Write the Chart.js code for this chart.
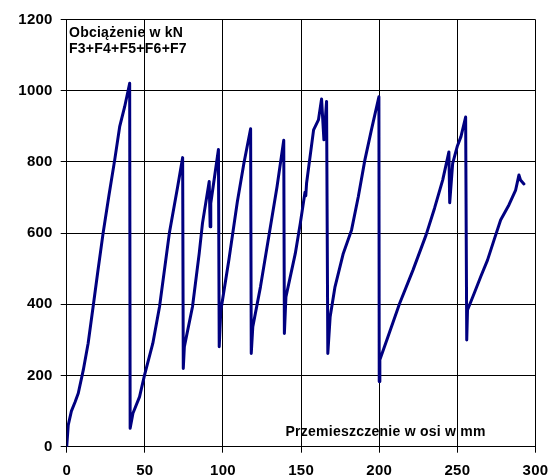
<!DOCTYPE html>
<html>
<head>
<meta charset="utf-8">
<script src="https://cdn.jsdelivr.net/npm/chart.js@4/dist/chart.umd.min.js"></script>
<style>
  html, body { margin: 0; padding: 0; background: #fff; overflow: hidden; }
  #wrap { position: relative; width: 557px; height: 475px; overflow: hidden; background: #fff; }
  canvas { position: absolute; left: 0; top: 0; }
  .note { position: absolute; font: bold 14px "Liberation Sans", Arial, sans-serif; line-height: 16.7px; color: #000; white-space: nowrap; letter-spacing: 0.25px; }
</style>
</head>
<body>
<div id="wrap">
  <canvas id="c" width="557" height="475"></canvas>
  <div class="note" style="left:69px; top:23.5px;">Obciążenie w kN<br>F3+F4+F5+F6+F7</div>
  <div class="note" style="left:285.5px; top:422.8px;">Przemieszczenie w osi w mm</div>
</div>
<script>
// Displacement along axis (mm)
const displacement = [
  0, 1.0, 3.0, 5.3, 7.4, 10.6, 13.7, 16.9, 20.0, 23.3, 27.0, 30.7, 33.9, 37.1, 40.3,
  40.6, 42.4, 46.6, 49.8, 55.1, 59.4, 65.7, 71.0, 74.2,
  74.6, 75.3, 80.5, 84.8, 86.9, 91.2, 91.8, 92.2, 97.1,
  97.6, 98.6, 103.9, 109.2, 113.4, 117.7,
  118.1, 119.1, 124.0, 129.3, 134.6, 138.9,
  139.3, 140.3, 146.3, 149.5, 152.5, 153.0, 153.5, 158.0, 161.1, 163.1, 164.6, 166.3,
  167.1, 168.6, 171.7, 177.0, 182.3, 186.6, 190.8, 195.0, 199.8,
  200.0, 200.4, 205.6, 213.1, 221.6, 230.0, 235.4, 240.6, 244.6, 245.1, 247.0, 249.9, 252.3, 255.3,
  256.0, 256.5, 260.8, 265.0, 269.3, 273.5, 277.7, 283.0, 287.3, 289.4, 290.4, 292.6
];
// Load F3+F4+F5+F6+F7 (kN)
const load = [
  0, 61, 100, 125, 150, 215, 290, 393, 495, 600, 705, 805, 899, 955, 1021,
  52, 94, 140, 201, 290, 393, 600, 730, 812,
  220, 281, 393, 543, 628, 745, 618, 684, 835,
  281, 381, 528, 688, 796, 893,
  262, 337, 449, 590, 730, 861,
  318, 421, 543, 628, 715, 705, 740, 890, 918, 977, 862, 970,
  262, 365, 449, 543, 609, 702, 805, 890, 983,
  183, 244, 309, 403, 496, 595, 670, 749, 828, 685, 796, 843, 871, 926,
  300, 384, 431, 478, 524, 581, 637, 679, 721, 763, 749, 738
];
const xTicks = [0, 50, 100, 150, 200, 250, 300];
const yTicks = [0, 200, 400, 600, 800, 1000, 1200];

const points = displacement.map((x, i) => ({ x: x, y: load[i] }));

const tickFont = { family: '"Liberation Sans", Arial, sans-serif', size: 15, weight: 'bold' };

const spacingPlugin = {
  id: 'spacing',
  beforeDraw(chart) { chart.ctx.letterSpacing = '0.25px'; }
};

new Chart(document.getElementById('c'), {
  type: 'scatter',
  data: {
    datasets: [{
      data: points,
      showLine: true,
      borderColor: '#000080',
      backgroundColor: '#000080',
      borderWidth: 3,
      pointRadius: 0,
      tension: 0,
      borderJoinStyle: 'round',
      borderCapStyle: 'round'
    }]
  },
  options: {
    responsive: false,
    animation: false,
    devicePixelRatio: 1,
    layout: { padding: { top: 19.5, right: 18.7, left: 0, bottom: 0 } },
    plugins: { legend: { display: false }, tooltip: { enabled: false } },
    scales: {
      x: {
        type: 'linear',
        min: xTicks[0],
        max: xTicks[xTicks.length - 1],
        afterBuildTicks(scale) { scale.ticks = xTicks.map(v => ({ value: v })); },
        afterFit(scale) { scale.height = 28.3; },
        grid: { color: '#000', lineWidth: 1, tickLength: 6, tickColor: '#000', drawTicks: true },
        border: { color: '#000', width: 1 },
        ticks: { color: '#000', font: tickFont, padding: 9, maxRotation: 0, autoSkip: false, callback: v => String(v) }
      },
      y: {
        type: 'linear',
        min: yTicks[0],
        max: yTicks[yTicks.length - 1],
        afterBuildTicks(scale) { scale.ticks = yTicks.map(v => ({ value: v })); },
        afterFit(scale) { scale.width = 66.7; },
        grid: { color: '#000', lineWidth: 1, tickLength: 6, tickColor: '#000', drawTicks: true },
        border: { color: '#000', width: 1 },
        ticks: { color: '#000', font: tickFont, padding: 8, autoSkip: false, callback: v => String(v) }
      }
    }
  },
  plugins: [spacingPlugin]
});
</script>
</body>
</html>
